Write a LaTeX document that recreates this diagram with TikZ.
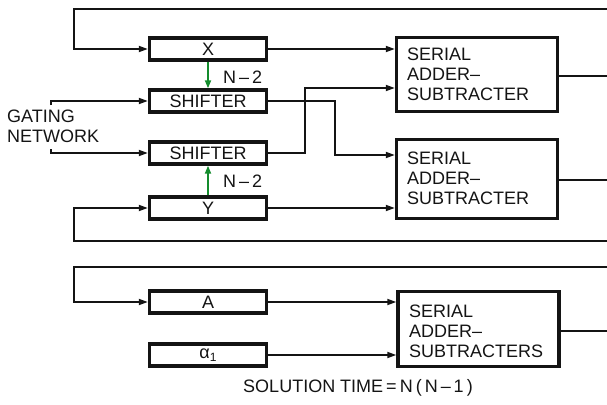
\documentclass[tikz,border=0pt]{standalone}
\usepackage{fontspec}
\setmainfont{Liberation Sans}
\usetikzlibrary{arrows.meta}
\definecolor{ink}{RGB}{20,20,20}
\definecolor{grn}{RGB}{20,140,45}
\tikzset{
  reg/.style={draw=ink, line width=3.4pt, minimum width=117pt, minimum height=22pt, inner sep=0pt, text=ink, font=\fontsize{18}{20}\selectfont},
  adder/.style={draw=ink, line width=3.4pt, minimum width=161pt, inner sep=0pt, text=ink},
  wire/.style={draw=ink, line width=1.7pt},
  arr/.style={wire, -{Triangle[length=9pt,width=6pt]}},
  garr/.style={draw=grn, line width=1.8pt, -{Triangle[length=8pt,width=6pt]}},
  lbl/.style={text=ink, font=\fontsize{18}{20}\selectfont, inner sep=0pt},
}
\begin{document}
\begin{tikzpicture}[x=1pt,y=-1pt]
\useasboundingbox (0,0) rectangle (607,404);
% registers
\node[reg] (X)  at (208,49)  {X};
\node[reg] (S1) at (208,101) {SHIFTER};
\node[reg] (S2) at (208,153) {SHIFTER};
\node[reg] (Y)  at (208,208) {Y};
\node[reg] (A)  at (208,302) {A};
\node[reg] (AL) at (208,355) {α\raisebox{-0.35ex}{\fontsize{12}{12}\selectfont 1}};
% adders
\node[adder, minimum height=74pt] (D1) at (477,74.5) {};
\node[adder, minimum height=79pt] (D2) at (477,179) {};
\node[adder, minimum height=75pt] (D3) at (478.5,329) {};
\node[lbl, anchor=north west, align=left] (T1) at (407,48) {SERIAL\\ADDER–\\SUBTRACTER};
\node[lbl, anchor=north west, align=left] (T2) at (407,152) {SERIAL\\ADDER–\\SUBTRACTER};
\node[lbl, anchor=north west, align=left] (T3) at (409,305) {SERIAL\\ADDER–\\SUBTRACTERS};
% labels
\node[lbl, anchor=north west, align=left] (G) at (7,110) {GATING\\NETWORK};
\node[lbl, anchor=west] (N1) at (223,77) {N\,–\,2};
\node[lbl, anchor=west] (N2) at (223,181) {N\,–\,2};
\node[lbl] (SOL) at (358,388) {SOLUTION TIME\,=\,N\,(\,N\,–\,1\,)};
% coordinates
\coordinate (eT) at (607,9);
\coordinate (e1) at (607,76);
\coordinate (e2) at (607,180);
\coordinate (eB1) at (607,241);
\coordinate (eB2) at (607,267);
\coordinate (e3) at (607,331);
\coordinate (g1) at (51,105);
\coordinate (g2) at (51,149);
% top loop into X
\draw[arr] (eT) -- (74,9) -- (74,49) -- (X.west);
\draw[arr] (X.east) -- (X.east -| D1.west);
% shifters crossing
\draw[arr] (S1.east) -- (335,101) -- (335,155) -- (D2.west |- 0,155);
\draw[arr] (S2.east) -- (305,153) -- (305,88) -- (D1.west |- 0,88);
% Y
\draw[arr] (Y.east) -- (Y.east -| D2.west);
\draw[arr] (eB1) -- (74,241) -- (74,208) -- (Y.west);
% A loop
\draw[arr] (eB2) -- (74,267) -- (74,302) -- (A.west);
\draw[arr] (A.east) -- (A.east -| D3.west);
\draw[arr] (AL.east) -- (AL.east -| D3.west);
% outputs
\draw[wire] (D1.east |- e1) -- (e1);
\draw[wire] (D2.east |- e2) -- (e2);
\draw[wire] (D3.east |- e3) -- (e3);
% gating
\draw[arr] (g1) -- (51,101) -- (S1.west);
\draw[arr] (g2) -- (51,153) -- (S2.west);
% green shift arrows
\draw[garr] (X.south) -- (S1.north);
\draw[garr] (Y.north) -- (S2.south);
\end{tikzpicture}
\end{document}
